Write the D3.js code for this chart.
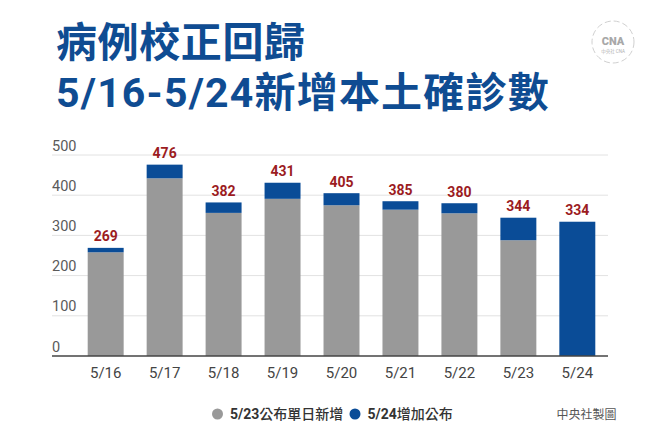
<!DOCTYPE html>
<html>
<head>
<meta charset="utf-8">
<script src="https://cdn.jsdelivr.net/npm/d3@7"></script>
<style>
  html, body { margin: 0; padding: 0; background: #fff; }
  svg { display: block; }
</style>
</head>
<body>
<svg id="chart" width="647" height="433"></svg>
<script>
// ---- data ----
const dates = ["5/16", "5/17", "5/18", "5/19", "5/20", "5/21", "5/22", "5/23", "5/24"];
const announced523 = [258, 442, 356, 391, 375, 364, 355, 288, 0];   // 5/23公布單日新增
const added524     = [11, 34, 26, 40, 30, 21, 25, 56, 334];        // 5/24增加公布
const yTicks = [0, 100, 200, 300, 400, 500];
const titleLines = ["病例校正回歸", "5/16-5/24新增本土確診數"];
const legendLabels = ["5/23公布單日新增", "5/24增加公布"];
const credit = "中央社製圖";

const GRAY = "#999999", BLUE = "#0a4c97", RED = "#9c1c1f", TITLE = "#0f4c92";
const svg = d3.select("#chart");
const latin = "Roboto, 'Noto Sans CJK TC', sans-serif";

// title
svg.selectAll("text.title").data(titleLines).join("text")
  .attr("class", "title")
  .attr("x", 56).attr("y", (d, i) => i === 0 ? 56.5 : 106.5)
  .attr("fill", TITLE).attr("font-family", latin)
  .attr("font-weight", 700).attr("font-size", 41)
  .attr("letter-spacing", (d, i) => i === 0 ? 0.6 : 1.2)
  .text(d => d);

// logo
const logo = svg.append("g").attr("transform", "translate(613,42)");
logo.append("circle").attr("r", 21).attr("fill", "none")
  .attr("stroke", "#d0d0d0").attr("stroke-width", 1).attr("stroke-dasharray", "6,3");
logo.append("text").attr("y", 3).attr("text-anchor", "middle")
  .attr("font-family", latin).attr("font-weight", 900).attr("font-size", 11)
  .attr("fill", "#a8a8a8").text("CNA");
logo.append("text").attr("y", 11).attr("text-anchor", "middle")
  .attr("font-family", latin).attr("font-size", 4.5)
  .attr("fill", "#b0b0b0").text("中央社 CNA");

// scales
const x = d3.scaleBand().domain(dates).range([87.7, 595.3]).paddingInner(0.39).paddingOuter(0);
const y = d3.scaleLinear().domain([0, 500]).range([356, 155]);
const left = 52, right = 608;

// grid + y labels
const grid = svg.append("g");
grid.selectAll("line").data(yTicks.filter(t => t > 0)).join("line")
  .attr("x1", left).attr("x2", right)
  .attr("y1", d => y(d)).attr("y2", d => y(d))
  .attr("stroke", "#e2e2e2").attr("stroke-width", 1);
grid.selectAll("text").data(yTicks).join("text")
  .attr("x", left).attr("y", d => y(d) - 4.5)
  .attr("font-family", latin).attr("font-size", 14.5)
  .attr("fill", "#5a5a5a").text(d => d);

// bars
const data = dates.map((d, i) => ({ date: d, base: announced523[i], add: added524[i], total: announced523[i] + added524[i] }));
const bars = svg.append("g");
bars.selectAll("rect.base").data(data).join("rect")
  .attr("class", "base")
  .attr("x", d => x(d.date)).attr("width", x.bandwidth())
  .attr("y", d => y(d.base)).attr("height", d => y(0) - y(d.base))
  .attr("fill", GRAY);
bars.selectAll("rect.add").data(data).join("rect")
  .attr("class", "add")
  .attr("x", d => x(d.date)).attr("width", x.bandwidth())
  .attr("y", d => y(d.total)).attr("height", d => y(d.base) - y(d.total))
  .attr("fill", BLUE);

// value labels
svg.append("g").selectAll("text").data(data).join("text")
  .attr("x", d => x(d.date) + x.bandwidth() / 2)
  .attr("y", d => y(d.total) - 6.5)
  .attr("text-anchor", "middle")
  .attr("font-family", latin).attr("font-weight", 700).attr("font-size", 14)
  .attr("fill", RED).text(d => d.total);

// baseline axis
svg.append("line").attr("x1", left).attr("x2", right)
  .attr("y1", y(0)).attr("y2", y(0))
  .attr("stroke", "#444").attr("stroke-width", 1.5);

// x labels
const xAxis = d3.axisBottom(x).tickSize(0).tickPadding(0);
const xg = svg.append("g").attr("transform", `translate(0,${y(0)})`).call(xAxis);
xg.select(".domain").remove();
xg.selectAll("text")
  .attr("y", 22).attr("dy", null)
  .attr("font-family", latin).attr("font-size", 15)
  .attr("fill", "#444");

// legend
const legend = svg.append("g");
const legX = [217.5, 355];
const legColors = [GRAY, BLUE];
legendLabels.forEach((lab, i) => {
  legend.append("circle").attr("cx", legX[i]).attr("cy", 414).attr("r", 5.5).attr("fill", legColors[i]);
  const m = lab.match(/^([0-9\/]+)(.*)$/);
  const t = legend.append("text").attr("x", legX[i] + 12.5).attr("y", 419)
    .attr("font-family", latin).attr("font-size", 14).attr("fill", "#333");
  t.append("tspan").attr("font-weight", 700).text(m[1]);
  t.append("tspan").attr("font-weight", 500).text(m[2]);
});
svg.append("text").attr("x", 556.5).attr("y", 418.5)
  .attr("font-family", "'Noto Sans CJK TC', sans-serif").attr("font-size", 12)
  .attr("fill", "#555").text(credit);
</script>
</body>
</html>
